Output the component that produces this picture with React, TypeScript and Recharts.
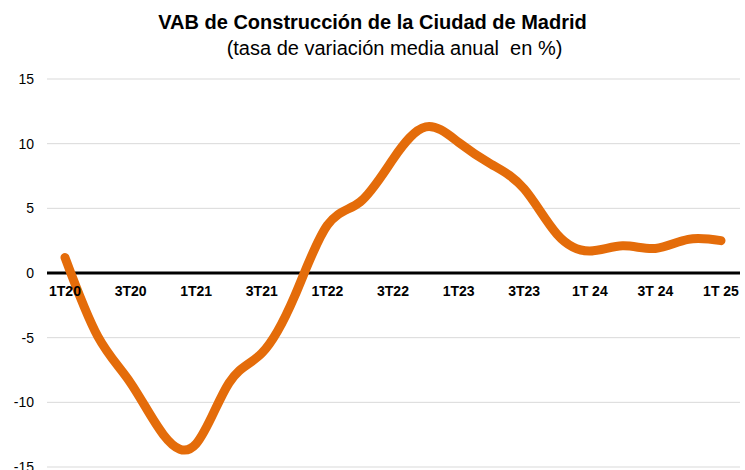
import { LineChart, Line, XAxis, YAxis, CartesianGrid, ReferenceLine } from "recharts";

const quarters = [
  "1T20", "2T20", "3T20", "4T20",
  "1T21", "2T21", "3T21", "4T21",
  "1T22", "2T22", "3T22", "4T22",
  "1T23", "2T23", "3T23", "4T23",
  "1T 24", "2T 24", "3T 24", "4T 24",
  "1T 25",
];

const vab = [
  1.2, -4.9, -8.5, -12.5,
  -13.2, -8.5, -6.2, -1.8,
  3.7, 5.5, 8.8, 11.3,
  10.1, 8.4, 6.5, 3.0,
  1.7, 2.1, 1.9, 2.6,
  2.5,
];

const yTicks = [-15, -10, -5, 0, 5, 10, 15];

const data = quarters.map((q, i) => ({ q, vab: vab[i] }));

const FONT = '"Liberation Sans", Arial, sans-serif';
const ZERO_Y = 273; // pixel row of the 0 line, where Excel puts the category labels

const renderQuarterTick = ({ x, payload }: any) => (
  <text
    x={x}
    y={ZERO_Y + 23}
    textAnchor="middle"
    style={{ fontFamily: FONT, fontSize: 14, fontWeight: "bold", fill: "#000" }}
  >
    {payload.value}
  </text>
);

export default function App() {
  return (
    <div style={{ position: "relative", width: 745, height: 470, background: "#fff", fontFamily: FONT }}>
      <style>{"body{margin:0}"}</style>
      <div
        style={{
          position: "absolute",
          top: 10,
          left: 0,
          width: 745,
          textAlign: "center",
          fontSize: 20,
          fontWeight: "bold",
          lineHeight: "24px",
          color: "#000",
        }}
      >
        VAB de Construcción de la Ciudad de Madrid
      </div>
      <div
        style={{
          position: "absolute",
          top: 37,
          left: 22,
          width: 745,
          textAlign: "center",
          fontSize: 20,
          lineHeight: "22px",
          color: "#000",
          whiteSpace: "pre",
        }}
      >
        {"(tasa de variación media anual  en %)"}
      </div>
      <LineChart
        width={745}
        height={470}
        data={data}
        margin={{ top: 79, right: 5, bottom: 2, left: 0 }}
      >
        <CartesianGrid vertical={false} stroke="#d9d9d9" />
        <XAxis
          dataKey="q"
          height={1}
          interval={1}
          axisLine={false}
          tickLine={false}
          padding={{ left: 18, right: 19 }}
          tick={renderQuarterTick}
        />
        <YAxis
          width={47}
          domain={[-15, 15]}
          ticks={yTicks}
          interval={0}
          axisLine={false}
          tickLine={false}
          tickSize={0}
          tickMargin={13}
          tick={{ fontFamily: FONT, fontSize: 14, fill: "#000" }}
        />
        <ReferenceLine y={0} stroke="#000" strokeWidth={3} />
        <Line
          type="natural"
          dataKey="vab"
          stroke="#e46c0a"
          strokeWidth={9}
          strokeLinecap="round"
          dot={false}
          isAnimationActive={false}
        />
      </LineChart>
    </div>
  );
}
